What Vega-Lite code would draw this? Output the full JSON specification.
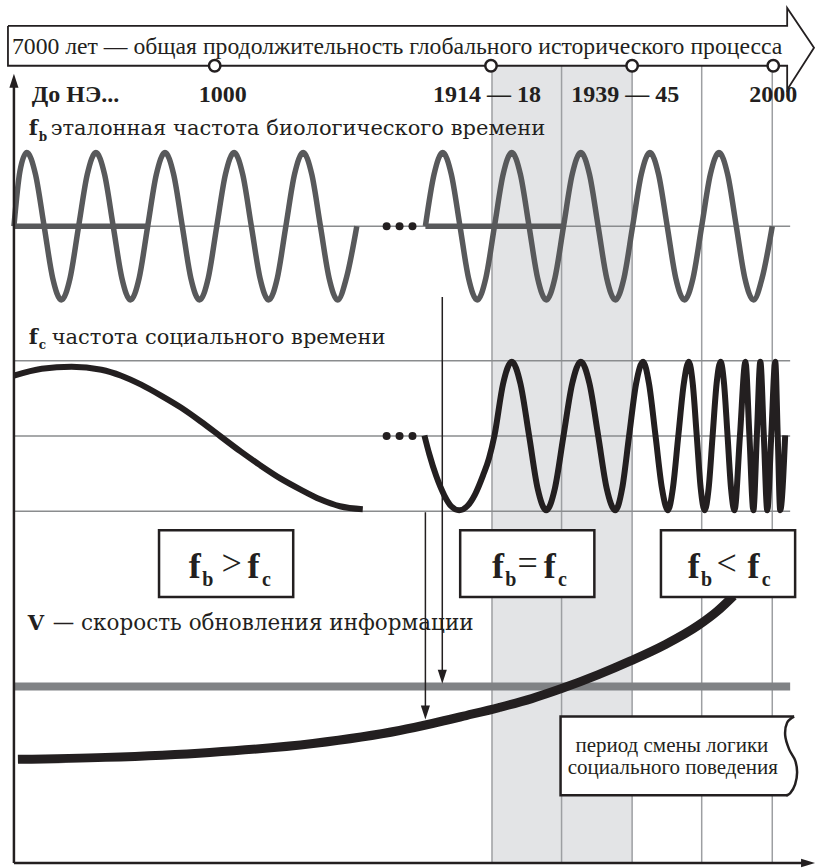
{
"$schema": "https://vega.github.io/schema/vega-lite/v6.json",
"width": 818, "height": 868, "padding": 0,
"autosize": {"type": "fit", "contains": "padding"},
"background": "white",
"config": {"view": {"stroke": null}},
"datasets": {
"band": [{"x": 493, "x2": 634, "y": 66, "y2": 866}],
"vlines": [{"x": 493, "y": 66, "y2": 866}, {"x": 563, "y": 66, "y2": 866}, {"x": 634, "y": 66, "y2": 866}, {"x": 704, "y": 66, "y2": 866}, {"x": 775, "y": 66, "y2": 866}],
"hlines": [{"x": 12, "x2": 793, "y": 227}, {"x": 12, "x2": 793, "y": 362}, {"x": 12, "x2": 793, "y": 437.5}, {"x": 12, "x2": 793, "y": 513}],
"vlevel": [{"x": 12, "x2": 793, "y": 689}],
"fb": [
{"seg":"h1","x":12,"y":227},{"seg":"h1","x":148,"y":227},
{"seg":"h2","x":426,"y":227},{"seg":"h2","x":565,"y":227},
{"seg":"a","x":12,"y":227},{"seg":"a","x":18,"y":172},{"seg":"a","x":25,"y":153},{"seg":"a","x":33.7,"y":175},{"seg":"a","x":42.4,"y":227},{"seg":"a","x":51,"y":279},{"seg":"a","x":59.8,"y":301},{"seg":"a","x":68.5,"y":279},{"seg":"a","x":77.1,"y":227},{"seg":"a","x":85.8,"y":175},{"seg":"a","x":94.5,"y":153},{"seg":"a","x":103.2,"y":175},{"seg":"a","x":111.9,"y":227},{"seg":"a","x":120.6,"y":279},{"seg":"a","x":129.3,"y":301},{"seg":"a","x":138,"y":279},{"seg":"a","x":146.6,"y":227},{"seg":"a","x":155.3,"y":175},{"seg":"a","x":164,"y":153},{"seg":"a","x":172.7,"y":175},{"seg":"a","x":181.4,"y":227},{"seg":"a","x":190,"y":279},{"seg":"a","x":198.8,"y":301},{"seg":"a","x":207.5,"y":279},{"seg":"a","x":216.1,"y":227},{"seg":"a","x":224.8,"y":175},{"seg":"a","x":233.5,"y":153},{"seg":"a","x":242.2,"y":175},{"seg":"a","x":250.9,"y":227},{"seg":"a","x":259.6,"y":279},{"seg":"a","x":268.3,"y":301},{"seg":"a","x":277,"y":279},{"seg":"a","x":285.6,"y":227},{"seg":"a","x":294.3,"y":175},{"seg":"a","x":303,"y":153},{"seg":"a","x":311.7,"y":175},{"seg":"a","x":320.4,"y":227},{"seg":"a","x":329.1,"y":279},{"seg":"a","x":337.8,"y":301},{"seg":"a","x":346.5,"y":279},{"seg":"a","x":357,"y":227},
{"seg":"b","x":426,"y":227},{"seg":"b","x":434.7,"y":175},{"seg":"b","x":443.4,"y":153},{"seg":"b","x":452.1,"y":175},{"seg":"b","x":460.8,"y":227},{"seg":"b","x":469.4,"y":279},{"seg":"b","x":478.1,"y":301},{"seg":"b","x":486.8,"y":279},{"seg":"b","x":495.5,"y":227},{"seg":"b","x":504.2,"y":175},{"seg":"b","x":512.9,"y":153},{"seg":"b","x":521.6,"y":175},{"seg":"b","x":530.3,"y":227},{"seg":"b","x":538.9,"y":279},{"seg":"b","x":547.6,"y":301},{"seg":"b","x":556.3,"y":279},{"seg":"b","x":565,"y":227},{"seg":"b","x":573.7,"y":175},{"seg":"b","x":582.4,"y":153},{"seg":"b","x":591.1,"y":175},{"seg":"b","x":599.8,"y":227},{"seg":"b","x":608.4,"y":279},{"seg":"b","x":617.1,"y":301},{"seg":"b","x":625.8,"y":279},{"seg":"b","x":634.5,"y":227},{"seg":"b","x":643.2,"y":175},{"seg":"b","x":651.9,"y":153},{"seg":"b","x":660.6,"y":175},{"seg":"b","x":669.3,"y":227},{"seg":"b","x":677.9,"y":279},{"seg":"b","x":686.6,"y":301},{"seg":"b","x":695.3,"y":279},{"seg":"b","x":704,"y":227},{"seg":"b","x":712.7,"y":175},{"seg":"b","x":721.4,"y":153},{"seg":"b","x":730.1,"y":175},{"seg":"b","x":738.8,"y":227},{"seg":"b","x":747.4,"y":279},{"seg":"b","x":756.1,"y":301},{"seg":"b","x":764.8,"y":279},{"seg":"b","x":775,"y":227}
],
"fc": [
{"seg":"a","x":12,"y":377},{"seg":"a","x":40,"y":370},{"seg":"a","x":70,"y":368},{"seg":"a","x":100,"y":371},{"seg":"a","x":120,"y":377},{"seg":"a","x":140,"y":386},{"seg":"a","x":160,"y":397},{"seg":"a","x":180,"y":409},{"seg":"a","x":200,"y":423},{"seg":"a","x":220,"y":438},{"seg":"a","x":240,"y":453},{"seg":"a","x":260,"y":467},{"seg":"a","x":280,"y":480},{"seg":"a","x":300,"y":491},{"seg":"a","x":320,"y":501},{"seg":"a","x":340,"y":508},{"seg":"a","x":363,"y":511},
{"seg":"b","x":425,"y":437},{"seg":"b","x":430,"y":456},{"seg":"b","x":437,"y":478},{"seg":"b","x":445,"y":497},{"seg":"b","x":452,"y":508},{"seg":"b","x":460,"y":512},{"seg":"b","x":468,"y":508},{"seg":"b","x":476,"y":496},{"seg":"b","x":484,"y":477},{"seg":"b","x":490,"y":460},{"seg":"b","x":495.5,"y":437},{"seg":"b","x":504.2,"y":385},{"seg":"b","x":512.9,"y":363},{"seg":"b","x":521.6,"y":385},{"seg":"b","x":530.3,"y":437},{"seg":"b","x":538.9,"y":490},{"seg":"b","x":547.6,"y":512},{"seg":"b","x":556.3,"y":490},{"seg":"b","x":565,"y":437},{"seg":"b","x":573.7,"y":385},{"seg":"b","x":582.4,"y":363},{"seg":"b","x":591.1,"y":385},{"seg":"b","x":599.8,"y":437},{"seg":"b","x":608.4,"y":490},{"seg":"b","x":617.1,"y":512},{"seg":"b","x":624,"y":490},{"seg":"b","x":631,"y":437},{"seg":"b","x":638,"y":385},{"seg":"b","x":645,"y":363},{"seg":"b","x":651,"y":385},{"seg":"b","x":657.5,"y":437},{"seg":"b","x":664,"y":490},{"seg":"b","x":670,"y":512},{"seg":"b","x":675,"y":490},{"seg":"b","x":680.5,"y":437},{"seg":"b","x":686,"y":385},{"seg":"b","x":691,"y":363},{"seg":"b","x":695,"y":385},{"seg":"b","x":699,"y":437},{"seg":"b","x":703,"y":490},{"seg":"b","x":707,"y":512},{"seg":"b","x":711,"y":490},{"seg":"b","x":715,"y":437},{"seg":"b","x":719,"y":385},{"seg":"b","x":723,"y":363},{"seg":"b","x":726.5,"y":385},{"seg":"b","x":730,"y":437},{"seg":"b","x":733.5,"y":490},{"seg":"b","x":737,"y":512},{"seg":"b","x":742.5,"y":437},{"seg":"b","x":748,"y":363},{"seg":"b","x":752,"y":437},{"seg":"b","x":756,"y":512},{"seg":"b","x":759.5,"y":437},{"seg":"b","x":763,"y":363},{"seg":"b","x":766.5,"y":437},{"seg":"b","x":770,"y":512},{"seg":"b","x":774,"y":437},{"seg":"b","x":778,"y":363},{"seg":"b","x":780.5,"y":437},{"seg":"b","x":783,"y":512},{"seg":"b","x":788,"y":437}
],
"dots": [{"x":387,"y":227},{"x":400,"y":227},{"x":413,"y":227},{"x":387,"y":437.5},{"x":400,"y":437.5},{"x":413,"y":437.5}],
"downLines": [{"x":443,"y":298,"y2":678},{"x":426,"y":514,"y2":712}],
"downHeads": [{"x":443,"y":679},{"x":426,"y":715}],
"vcurve": [{"x":16,"y":762},{"x":104,"y":760},{"x":209,"y":755},{"x":313,"y":746},{"x":400,"y":733},{"x":433,"y":726},{"x":467,"y":718},{"x":500,"y":710},{"x":533,"y":701},{"x":563,"y":691},{"x":600,"y":677},{"x":633,"y":663},{"x":667,"y":647},{"x":700,"y":628},{"x":720,"y":613},{"x":736,"y":598}],
"boxes": [{"x":158,"x2":293,"y":532,"y2":599},{"x":461,"x2":596,"y":532,"y2":599},{"x":663,"x2":798,"y":532,"y2":599}],
"pbox": [{"x":562,"x2":793,"y":719,"y2":798}],
"pboxEdges": [{"o":1,"x":797,"y":719},{"o":2,"x":562,"y":719},{"o":3,"x":562,"y":798},{"o":4,"x":791,"y":798}],
"pboxCurl": [{"o":1,"x":797,"y":719},{"o":2,"x":790,"y":725},{"o":3,"x":788,"y":738},{"o":4,"x":792,"y":752},{"o":5,"x":798,"y":763},{"o":6,"x":800,"y":775},{"o":7,"x":798,"y":787},{"o":8,"x":793,"y":796},{"o":9,"x":789,"y":798}],
"topArrow": [{"o":1,"x":6,"y":26},{"o":2,"x":790,"y":26},{"o":3,"x":790,"y":8},{"o":4,"x":817,"y":48},{"o":5,"x":790,"y":90},{"o":6,"x":790,"y":66},{"o":7,"x":6,"y":66},{"o":8,"x":6,"y":26}],
"circles": [{"x":214,"y":66},{"x":492,"y":66},{"x":634,"y":66},{"x":776,"y":66}],
"axisV": [{"x":12,"y":80,"y2":866}],
"axisH": [{"x":12,"x2":811,"y":866}],
"headUp": [{"x":12,"y":81}],
"headRight": [{"x":811,"y":866}],
"arrowText": [{"x":10,"y":54,"t":"7000 лет — общая продолжительность глобального исторического процесса"}],
"years": [{"x":74,"y":102,"t":"До НЭ..."},{"x":222,"y":102,"t":"1000"},{"x":488,"y":102,"t":"1914 — 18"},{"x":627,"y":102,"t":"1939 — 45"},{"x":776,"y":102,"t":"2000"}],
"labF": [{"x":27,"y":135,"t":"f"},{"x":27,"y":345,"t":"f"}],
"labSub": [{"x":37,"y":141,"t":"b"},{"x":37,"y":350,"t":"c"}],
"labV": [{"x":26,"y":632,"t":"V"}],
"labText": [{"x":49,"y":135,"t":"эталонная частота биологического времени"},{"x":50,"y":345,"t":"частота социального времени"}],
"labTextV": [{"x":51,"y":632,"t":"— скорость обновления информации"}],
"boxF": [{"x":194,"y":580,"t":"f"},{"x":253,"y":580,"t":"f"},{"x":499,"y":580,"t":"f"},{"x":551,"y":580,"t":"f"},{"x":696,"y":580,"t":"f"},{"x":756,"y":580,"t":"f"}],
"boxSub": [{"x":207,"y":588,"t":"b"},{"x":266,"y":588,"t":"c"},{"x":512,"y":588,"t":"b"},{"x":564,"y":588,"t":"c"},{"x":709,"y":588,"t":"b"},{"x":769,"y":588,"t":"c"}],
"boxOp": [{"x":231,"y":577,"t":">"},{"x":529,"y":577,"t":"="},{"x":729,"y":577,"t":"<"}],
"pText": [{"x":674,"y":755,"t":"период смены логики"},{"x":675,"y":777,"t":"социального поведения"}]
},
"encoding": {
"x": {"field": "x", "type": "quantitative", "scale": {"domain": [0, 818], "nice": false, "zero": false}, "axis": null},
"y": {"field": "y", "type": "quantitative", "scale": {"domain": [0, 868], "nice": false, "zero": false, "reverse": true}, "axis": null}
},
"layer": [
{"data": {"name": "band"}, "mark": {"type": "rect", "fill": "#e3e4e6"}, "encoding": {"x2": {"field": "x2"}, "y2": {"field": "y2"}}},
{"data": {"name": "vlines"}, "mark": {"type": "rule", "stroke": "#9d9fa2", "strokeWidth": 1.5}, "encoding": {"y2": {"field": "y2"}}},
{"data": {"name": "hlines"}, "mark": {"type": "rule", "stroke": "#8a8c8e", "strokeWidth": 1.5}, "encoding": {"x2": {"field": "x2"}}},
{"data": {"name": "vlevel"}, "mark": {"type": "rule", "stroke": "#808285", "strokeWidth": 8}, "encoding": {"x2": {"field": "x2"}}},
{"data": {"name": "fb"}, "mark": {"type": "line", "stroke": "#58595b", "strokeWidth": 5.5, "interpolate": "monotone", "strokeCap": "butt"}, "encoding": {"detail": {"field": "seg"}}},
{"data": {"name": "fc"}, "mark": {"type": "line", "stroke": "#231f20", "strokeWidth": 6, "interpolate": "monotone", "strokeCap": "butt"}, "encoding": {"detail": {"field": "seg"}}},
{"data": {"name": "dots"}, "mark": {"type": "point", "shape": "circle", "filled": true, "fill": "#231f20", "size": 64, "opacity": 1}},
{"data": {"name": "downLines"}, "mark": {"type": "rule", "stroke": "#231f20", "strokeWidth": 1.5}, "encoding": {"y2": {"field": "y2"}}},
{"data": {"name": "downHeads"}, "mark": {"type": "point", "shape": "M0,1L0.65,-1L-0.65,-1Z", "filled": true, "fill": "#231f20", "size": 196, "opacity": 1}},
{"data": {"name": "vcurve"}, "mark": {"type": "line", "stroke": "#231f20", "strokeWidth": 9, "interpolate": "monotone", "strokeCap": "butt"}},
{"data": {"name": "boxes"}, "mark": {"type": "rect", "fill": "white", "stroke": "#231f20", "strokeWidth": 2.5}, "encoding": {"x2": {"field": "x2"}, "y2": {"field": "y2"}}},
{"data": {"name": "pbox"}, "mark": {"type": "rect", "fill": "white"}, "encoding": {"x2": {"field": "x2"}, "y2": {"field": "y2"}}},
{"data": {"name": "pboxEdges"}, "mark": {"type": "line", "stroke": "#231f20", "strokeWidth": 2.5}, "encoding": {"order": {"field": "o"}}},
{"data": {"name": "pboxCurl"}, "mark": {"type": "line", "stroke": "#231f20", "strokeWidth": 2.5, "interpolate": "cardinal"}, "encoding": {"order": {"field": "o"}}},
{"data": {"name": "topArrow"}, "mark": {"type": "line", "stroke": "#231f20", "strokeWidth": 1.8, "strokeJoin": "miter"}, "encoding": {"order": {"field": "o"}}},
{"data": {"name": "circles"}, "mark": {"type": "point", "shape": "circle", "filled": false, "fill": "white", "fillOpacity": 1, "stroke": "#231f20", "strokeWidth": 2.5, "size": 130, "opacity": 1}},
{"data": {"name": "axisV"}, "mark": {"type": "rule", "stroke": "#231f20", "strokeWidth": 2.5}, "encoding": {"y2": {"field": "y2"}}},
{"data": {"name": "axisH"}, "mark": {"type": "rule", "stroke": "#231f20", "strokeWidth": 2.5}, "encoding": {"x2": {"field": "x2"}}},
{"data": {"name": "headUp"}, "mark": {"type": "point", "shape": "M0,-1L0.65,1L-0.65,1Z", "filled": true, "fill": "#231f20", "size": 196, "opacity": 1}},
{"data": {"name": "headRight"}, "mark": {"type": "point", "shape": "M1,0L-1,-0.6L-1,0.6Z", "filled": true, "fill": "#231f20", "size": 196, "opacity": 1}},
{"data": {"name": "arrowText"}, "mark": {"type": "text", "align": "left", "baseline": "alphabetic", "font": "Liberation Serif", "fontSize": 23.7, "fill": "#231f20"}, "encoding": {"text": {"field": "t"}}},
{"data": {"name": "years"}, "mark": {"type": "text", "align": "center", "baseline": "alphabetic", "font": "Liberation Serif", "fontWeight": "bold", "fontSize": 24, "fill": "#231f20"}, "encoding": {"text": {"field": "t"}}},
{"data": {"name": "labF"}, "mark": {"type": "text", "align": "left", "baseline": "alphabetic", "font": "DejaVu Serif", "fontWeight": "bold", "fontSize": 21, "fill": "#231f20"}, "encoding": {"text": {"field": "t"}}},
{"data": {"name": "labSub"}, "mark": {"type": "text", "align": "left", "baseline": "alphabetic", "font": "DejaVu Serif", "fontWeight": "bold", "fontSize": 12, "fill": "#231f20"}, "encoding": {"text": {"field": "t"}}},
{"data": {"name": "labV"}, "mark": {"type": "text", "align": "left", "baseline": "alphabetic", "font": "DejaVu Serif", "fontWeight": "bold", "fontSize": 21, "fill": "#231f20"}, "encoding": {"text": {"field": "t"}}},
{"data": {"name": "labText"}, "mark": {"type": "text", "align": "left", "baseline": "alphabetic", "font": "DejaVu Serif", "fontSize": 21, "fill": "#231f20"}, "encoding": {"text": {"field": "t"}}},
{"data": {"name": "labTextV"}, "mark": {"type": "text", "align": "left", "baseline": "alphabetic", "font": "DejaVu Serif", "fontSize": 21.5, "fill": "#231f20"}, "encoding": {"text": {"field": "t"}}},
{"data": {"name": "boxF"}, "mark": {"type": "text", "align": "center", "baseline": "alphabetic", "font": "Liberation Serif", "fontWeight": "bold", "fontSize": 36, "fill": "#231f20"}, "encoding": {"text": {"field": "t"}}},
{"data": {"name": "boxSub"}, "mark": {"type": "text", "align": "center", "baseline": "alphabetic", "font": "Liberation Serif", "fontWeight": "bold", "fontSize": 20, "fill": "#231f20"}, "encoding": {"text": {"field": "t"}}},
{"data": {"name": "boxOp"}, "mark": {"type": "text", "align": "center", "baseline": "alphabetic", "font": "Liberation Serif", "fontSize": 36, "fill": "#231f20"}, "encoding": {"text": {"field": "t"}}},
{"data": {"name": "pText"}, "mark": {"type": "text", "align": "center", "baseline": "alphabetic", "font": "Liberation Serif", "fontSize": 21, "fill": "#231f20"}, "encoding": {"text": {"field": "t"}}}
]
}
